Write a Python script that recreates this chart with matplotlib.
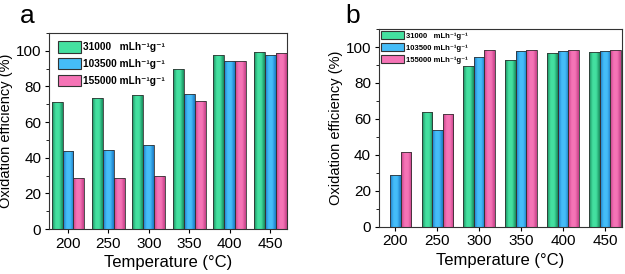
import numpy as np
import matplotlib
matplotlib.use("Agg")
import matplotlib.pyplot as plt
from matplotlib.patches import Rectangle
from matplotlib.colors import LinearSegmentedColormap
from matplotlib.ticker import MultipleLocator

plt.rcParams['font.family'] = ['Liberation Sans', 'DejaVu Sans']

temps = ["200", "250", "300", "350", "400", "450"]
labels = ["31000   mLh\u207b\u00b9g\u207b\u00b9",
          "103500 mLh\u207b\u00b9g\u207b\u00b9",
          "155000 mLh\u207b\u00b9g\u207b\u00b9"]

# panel a
a_31000 = [71, 73.5, 75, 89.5, 97.5, 99.5]
a_103500 = [44, 44.5, 47, 75.5, 94, 97.5]
a_155000 = [28.5, 28.5, 29.5, 72, 94.5, 98.5]

# panel b
b_31000 = [0, 64, 89.5, 93, 96.5, 97]
b_103500 = [29, 54, 94.5, 98, 98, 98]
b_155000 = [41.5, 63, 98.5, 98.5, 98.5, 98.5]

# (edge shade, centre colour)
colors = [("#17885a", "#44e0a0"), ("#1a78c4", "#45bdf8"), ("#c43e86", "#f574b6")]


def shade_bars(ax, bars, dark, light):
    cmap = LinearSegmentedColormap.from_list("g", [dark, light, light, dark])
    grad = np.linspace(0, 1, 64).reshape(1, -1)
    for b in bars:
        x, y = b.get_x(), b.get_y()
        w, h = b.get_width(), b.get_height()
        if h <= 0:
            continue
        im = ax.imshow(grad, cmap=cmap, aspect="auto", extent=(x, x + w, y, y + h),
                       zorder=2, interpolation="bicubic")
        im.set_clip_path(b)
        b.set_facecolor("none")


def panel(ax, data, width, xlim, leg_size, leg_kw):
    x = np.arange(len(temps))
    handles = []
    for i, (vals, (dark, light)) in enumerate(zip(data, colors)):
        bars = ax.bar(x + (i - 1) * width, vals, width, edgecolor="#333333",
                      linewidth=0.6, zorder=3, color=light)
        shade_bars(ax, bars, dark, light)
        handles.append(Rectangle((0, 0), 1, 1, facecolor=light, edgecolor="#333333",
                                 linewidth=0.8))
    ax.set_xlim(*xlim)
    ax.set_ylim(0, 110)
    ax.set_xticks(x)
    ax.set_xticklabels(temps)
    ax.yaxis.set_major_locator(MultipleLocator(20))
    ax.yaxis.set_minor_locator(MultipleLocator(10))
    ax.tick_params(axis="both", direction="out", labelsize=11, length=3, width=0.8, pad=2.5)
    ax.tick_params(axis="y", which="minor", length=2, width=0.6)
    ax.set_xlabel("Temperature (\u00b0C)", fontsize=12, labelpad=3)
    ax.set_ylabel("Oxidation efficiency (%)", fontsize=10.5, labelpad=2)
    for s in ax.spines.values():
        s.set_linewidth(0.8)
        s.set_color("#333333")
    ax.legend(handles, labels, loc="upper left", frameon=False,
              prop={"size": leg_size, "weight": "bold"}, **leg_kw)


fig = plt.figure(figsize=(6.25, 2.74), dpi=100)
ax1 = fig.add_axes([0.0784, 0.164, 0.381, 0.716])
ax2 = fig.add_axes([0.606, 0.1726, 0.389, 0.7214])

panel(ax1, [a_31000, a_103500, a_155000], 0.27, (-0.47, 5.42), 7.3,
      dict(handlelength=2.3, handleheight=1.3, handletextpad=0.2,
           labelspacing=0.55, borderaxespad=0.4, borderpad=0.45))
panel(ax2, [b_31000, b_103500, b_155000], 0.25, (-0.395, 5.4), 5.5,
      dict(handlelength=3.0, handleheight=1.2, handletextpad=0.25,
           labelspacing=0.45, borderaxespad=0.2, borderpad=0.1))

fig.text(0.032, 0.915, "a", fontsize=19)
fig.text(0.552, 0.915, "b", fontsize=19)

fig.savefig("out.png", dpi=100)
